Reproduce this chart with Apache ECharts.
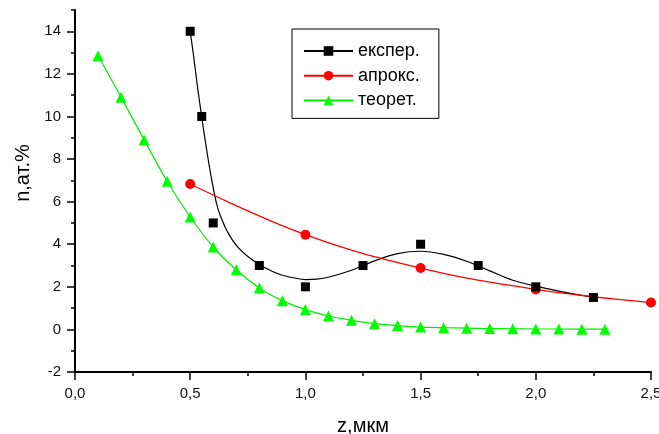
<!DOCTYPE html>
<html>
<head>
<meta charset="utf-8">
<title>n(z)</title>
<script src="https://cdn.jsdelivr.net/npm/echarts@6/dist/echarts.min.js"></script>
<style>
  html, body { margin: 0; padding: 0; background: #fff; }
  #chart { width: 659px; height: 434px; }
</style>
</head>
<body>
<div id="chart"></div>
<script>
// Experimental points (squares)
const expZ = [0.5, 0.55, 0.6, 0.8, 1.0, 1.25, 1.5, 1.75, 2.0, 2.25];
const expN = [14.0, 10.0, 5.0, 3.0, 2.0, 3.0, 4.0, 3.0, 2.0, 1.5];

// Fitted curve through the experimental data
const fitZ = [0.5, 0.514, 0.531, 0.549, 0.569, 0.593, 0.618, 0.64, 0.66, 0.70, 0.76, 0.82, 0.89, 0.96, 1.0, 1.05, 1.1, 1.2, 1.3, 1.4, 1.5, 1.6, 1.7, 1.8, 1.9, 2.0, 2.1, 2.2, 2.25];
const fitN = [14.0, 12.9, 11.45, 10.05, 8.6, 7.05, 5.75, 5.1, 4.62, 3.95, 3.34, 2.92, 2.58, 2.4, 2.34, 2.36, 2.45, 2.78, 3.22, 3.56, 3.67, 3.52, 3.2, 2.75, 2.31, 2.03, 1.8, 1.6, 1.52];

// Approximation (circles)
const aproxZ = [0.5, 1.0, 1.5, 2.0, 2.5];
const aproxN = [6.83, 4.45, 2.88, 1.88, 1.26];

// Theoretical profile (triangles)
const theorZ = [0.1, 0.2, 0.3, 0.4, 0.5, 0.6, 0.7, 0.8, 0.9, 1.0, 1.1, 1.2, 1.3, 1.4, 1.5, 1.6, 1.7, 1.8, 1.9, 2.0, 2.1, 2.2, 2.3];
const theorN = [12.85, 10.9, 8.9, 6.96, 5.28, 3.87, 2.8, 1.95, 1.35, 0.93, 0.63, 0.43, 0.27, 0.18, 0.11, 0.08, 0.06, 0.04, 0.03, 0.02, 0.02, 0.01, 0.01];

// Axis ticks
const yMajorTicks = [-2, 0, 2, 4, 6, 8, 10, 12, 14];
const yMinorTicks = [-1, 1, 3, 5, 7, 9, 11, 13, 15];

const seriesNames = ['експер.', 'апрокс.', 'теорет.'];
const axisTitles = { x: 'z,мкм', y: 'n,ат.%' };

const zip = (xs, ys) => xs.map((x, i) => [x, ys[i]]);
const FONT = '"Liberation Sans", Arial, sans-serif';

const chart = echarts.init(document.getElementById('chart'), null, { renderer: 'canvas' });

chart.setOption({
  animation: false,
  backgroundColor: '#ffffff',
  textStyle: { fontFamily: FONT },
  grid: { left: 75, right: 8, top: 10, bottom: 62, containLabel: false, outerBoundsMode: 'none' },
  legend: {
    orient: 'vertical',
    left: 292,
    top: 29,
    data: seriesNames,
    itemWidth: 49,
    itemHeight: 12,
    itemGap: 0.7,
    padding: [10, 19, 6, 11],
    borderColor: '#000',
    borderWidth: 1,
    selectedMode: false,
    textStyle: { fontFamily: FONT, fontSize: 18, color: '#000', lineHeight: 24 }
  },
  xAxis: {
    type: 'value',
    min: 0,
    max: 2.5,
    interval: 0.5,
    name: axisTitles.x,
    nameLocation: 'middle',
    nameGap: 44,
    nameTextStyle: { fontFamily: FONT, fontSize: 20, color: '#000' },
    axisLine: { show: true, onZero: false, lineStyle: { color: '#000', width: 2 } },
    axisTick: { show: true, length: 8, lineStyle: { color: '#000', width: 1.5 } },
    minorTick: { show: true, splitNumber: 2, length: 4, lineStyle: { color: '#000', width: 1.5 } },
    splitLine: { show: false },
    axisLabel: {
      margin: 14,
      fontSize: 15,
      color: '#111',
      fontFamily: FONT,
      formatter: v => v.toFixed(1).replace('.', ',')
    }
  },
  yAxis: [
    {
      type: 'value',
      min: -2,
      max: 15,
      interval: 2,
      name: axisTitles.y,
      nameLocation: 'middle',
      nameGap: 42,
      nameRotate: 90,
      nameTextStyle: { fontFamily: FONT, fontSize: 20, color: '#000', padding: [0, 0, 0, 36] },
      axisLine: { show: true, onZero: false, lineStyle: { color: '#000', width: 2 } },
      axisTick: { show: true, length: 8, customValues: yMajorTicks, lineStyle: { color: '#000', width: 1.5 } },
      splitLine: { show: false },
      axisLabel: { margin: 14, fontSize: 15, color: '#111', fontFamily: FONT, customValues: yMajorTicks }
    },
    {
      type: 'value',
      min: -2,
      max: 15,
      position: 'left',
      axisLine: { show: false },
      axisTick: { show: true, length: 4, customValues: yMinorTicks, lineStyle: { color: '#000', width: 1.5 } },
      splitLine: { show: false },
      axisLabel: { show: false }
    }
  ],
  series: [
    {
      name: seriesNames[0],
      type: 'line',
      data: zip(fitZ, fitN),
      smooth: 0.35,
      symbol: 'rect',
      showSymbol: false,
      color: '#000',
      lineStyle: { color: '#000', width: 1.2 },
      itemStyle: { color: '#000' },
      z: 3
    },
    {
      name: seriesNames[0],
      type: 'scatter',
      data: zip(expZ, expN),
      symbol: 'rect',
      symbolSize: 9,
      itemStyle: { color: '#000', opacity: 1 },
      z: 5
    },
    {
      name: seriesNames[1],
      type: 'line',
      data: zip(aproxZ, aproxN),
      smooth: 0.4,
      symbol: 'circle',
      symbolSize: 10,
      showAllSymbol: true,
      color: '#ff0000',
      lineStyle: { color: '#ff0000', width: 1.2 },
      itemStyle: { color: '#ff0000' },
      z: 4
    },
    {
      name: seriesNames[2],
      type: 'line',
      data: zip(theorZ, theorN),
      smooth: 0.4,
      symbol: 'triangle',
      symbolSize: 11,
      showAllSymbol: true,
      color: '#00ff00',
      lineStyle: { color: '#00ee00', width: 1.2 },
      itemStyle: { color: '#00ff00' },
      z: 4
    }
  ]
});
</script>
</body>
</html>
